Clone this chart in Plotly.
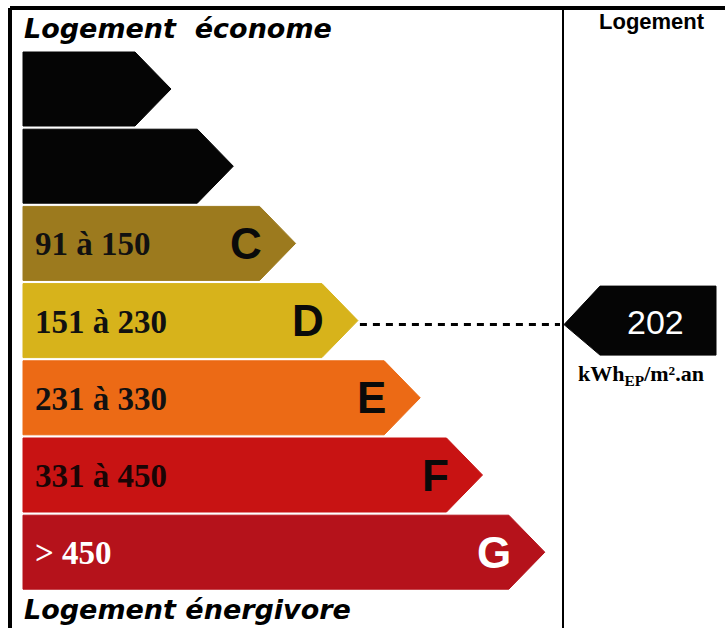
import plotly.graph_objects as go

# ---- data ----
classes = ["A", "B", "C", "D", "E", "F", "G"]
letter_labels = ["", "", "C", "D", "E", "F", "G"]          # A and B are blacked out on the label
range_labels = ["", "", "91 à 150", "151 à 230", "231 à 330", "331 à 450", "> 450"]
class_upper = [50, 90, 150, 230, 330, 450, float("inf")]
value = 202
unit_html = "kWh<sub>EP</sub>/m².an"
title_top = "Logement  économe"
title_bottom = "Logement énergivore"
column_title = "Logement"

# ---- style ----
fill_colors = ["#050505", "#050505", "#9c7a1e", "#d7b31b", "#ec6a15", "#c81313", "#b5121b"]
text_colors = ["#000000", "#000000", "#111111", "#111111", "#111111", "#1a0505", "#ffffff"]
letter_colors = ["#000000", "#000000", "#0a0a0a", "#0a0a0a", "#0a0a0a", "#0a0a0a", "#ffffff"]

W, H = 725, 628
X0, Y0, ROW, BAR_H = 23, 52, 77.2, 74
TIP0, TIP_STEP, POINT = 171, 62.3, 36
SEP_X = 563
ARROW_TIP, BOX_L, BOX_R, BOX_HALF = 564, 600, 716, 34.5

fig = go.Figure()

mids, tips = [], []
for i, c in enumerate(classes):
    top = Y0 + i * ROW
    bot = top + BAR_H
    mid = (top + bot) / 2
    tip = TIP0 + i * TIP_STEP
    end = tip - POINT
    mids.append(mid)
    tips.append(tip)
    fig.add_trace(go.Scatter(
        x=[X0, end, tip, end, X0, X0],
        y=[top, top, mid, bot, bot, top],
        mode="lines", fill="toself", fillcolor=fill_colors[i],
        line=dict(color=fill_colors[i], width=1),
        hoverinfo="skip", showlegend=False, name=c))
    if range_labels[i]:
        fig.add_annotation(x=X0 + 10, y=mid + 1, text="<b>%s</b>" % range_labels[i], showarrow=False,
                           xanchor="left", yanchor="middle",
                           font=dict(family="Liberation Serif", size=33, color=text_colors[i]))
    if letter_labels[i]:
        fig.add_annotation(x=tip - 32, y=mid, text="<b>%s</b>" % letter_labels[i], showarrow=False,
                           xanchor="right", yanchor="middle",
                           font=dict(family="Liberation Sans", size=44, color=letter_colors[i]))

# value marker
idx = next(k for k, u in enumerate(class_upper) if value <= u)
ym = mids[idx]
fig.add_trace(go.Scatter(
    x=[tips[idx] + 2, ARROW_TIP - 4], y=[ym + 4, ym + 4], mode="lines",
    line=dict(color="#000000", width=3, dash="7px,6px"),
    hoverinfo="skip", showlegend=False))
fig.add_trace(go.Scatter(
    x=[ARROW_TIP, BOX_L, BOX_R, BOX_R, BOX_L, ARROW_TIP],
    y=[ym + 4, ym - BOX_HALF, ym - BOX_HALF, ym + BOX_HALF, ym + BOX_HALF, ym + 4],
    mode="lines", fill="toself", fillcolor="#050505", line=dict(color="#050505", width=1),
    hoverinfo="skip", showlegend=False))
fig.add_annotation(x=(BOX_L + BOX_R) / 2 - 3, y=ym + 1, text=str(value), showarrow=False,
                   xanchor="center", yanchor="middle",
                   font=dict(family="Liberation Sans", size=34, color="#ffffff"))
fig.add_annotation(x=641, y=ym + BOX_HALF + 20, text="<b>%s</b>" % unit_html, showarrow=False,
                   xanchor="center", yanchor="middle",
                   font=dict(family="Liberation Serif", size=22, color="#000000"))

# titles
fig.add_annotation(x=22, y=28, text="<b><i>%s</i></b>" % title_top, showarrow=False,
                   xanchor="left", yanchor="middle",
                   font=dict(family="DejaVu Sans", size=27, color="#000000"))
fig.add_annotation(x=22, y=609, text="<b><i>%s</i></b>" % title_bottom, showarrow=False,
                   xanchor="left", yanchor="middle",
                   font=dict(family="DejaVu Sans", size=27, color="#000000"))
fig.add_annotation(x=652, y=21, text="<b>%s</b>" % column_title, showarrow=False,
                   xanchor="center", yanchor="middle",
                   font=dict(family="Liberation Sans", size=22, color="#000000"))

# frame
shapes = [
    dict(type="line", x0=10, x1=W, y0=8, y1=8, line=dict(color="#000000", width=4)),
    dict(type="line", x0=10, x1=10, y0=8, y1=H, line=dict(color="#000000", width=4)),
    dict(type="line", x0=SEP_X, x1=SEP_X, y0=8, y1=H, line=dict(color="#000000", width=2)),
]

fig.update_layout(
    width=W, height=H, margin=dict(l=0, r=0, t=0, b=0),
    paper_bgcolor="#ffffff", plot_bgcolor="#ffffff",
    xaxis=dict(range=[0, W], visible=False, fixedrange=True),
    yaxis=dict(range=[H, 0], visible=False, fixedrange=True),
    shapes=shapes, showlegend=False,
)

fig.write_html("out.html", config={"displayModeBar": False},
               post_script="document.body.style.margin='0';document.body.style.overflow='hidden';")
